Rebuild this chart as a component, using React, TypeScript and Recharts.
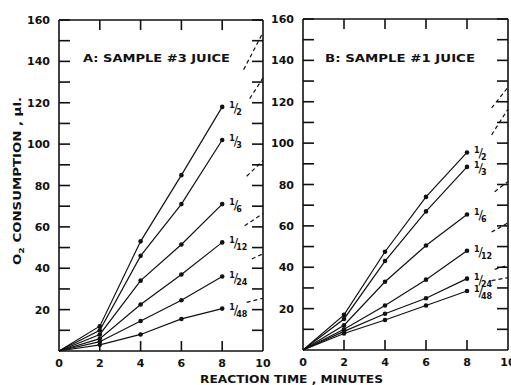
import { Line, LineChart, ReferenceLine, XAxis, YAxis } from "recharts";

const times = [0, 2, 4, 6, 8];
const dilutions = ["1/2", "1/3", "1/6", "1/12", "1/24", "1/48"];
const yTicks = [10, 20, 30, 40, 50, 60, 70, 80, 90, 100, 110, 120, 130, 140, 150, 160];
const xTicks = [0, 2, 4, 6, 8, 10];

// A: sample #3 juice, O2 uptake (µl) at each time
const a2 = [0, 12, 53, 85, 118];
const a3 = [0, 10, 46, 71, 102];
const a6 = [0, 8, 34, 51.5, 71];
const a12 = [0, 6, 22.5, 37, 52.5];
const a24 = [0, 4.5, 14.5, 24.5, 36];
const a48 = [0, 3, 8, 15.5, 20.5];

// dashed stubs at the right edge of panel A
const aTailFrom = [9.05, 9.35, 9.2, 9.1, 9.45, 9.2];
const aTailStart = [136, 122, 84.5, 60.5, 44.5, 23.5];
const aTailEnd = [154, 132, 92, 66.5, 47, 25.5];

// B: sample #1 juice
const b2 = [0, 17, 47.5, 74, 95.5];
const b3 = [0, 15, 43, 67, 88.5];
const b6 = [0, 12, 33, 50.5, 65.5];
const b12 = [0, 10, 21.5, 34, 48];
const b24 = [0, 9, 17.5, 25, 34.5];
const b48 = [0, 8, 14.5, 21.5, 28.5];

const bTailFrom = [9.2, 9.2, 9.35, 9.2, 9.35, 9.2];
const bTailStart = [117, 104, 76.5, 57, 39, 33.5];
const bTailEnd = [127, 116.5, 81.5, 61.5, 41, 35];

const INK = "#111111";
const FONT = "'DejaVu Sans', sans-serif";
const PLOT_H = 331;
const TICK = 11;

function toPoints(values: number[]) {
  return times.map((t, i) => ({ t, v: values[i] }));
}

function FracLabel({ x, y, text }: { x: number; y: number; text: string }) {
  const [num, den] = text.split("/");
  return (
    <text x={x + 7} y={y + 5} fontFamily={FONT} fontWeight="bold" fill={INK}>
      <tspan fontSize={8} dy={-4}>{num}</tspan>
      <tspan fontSize={13} dy={4} dx={-1} fontWeight="normal">/</tspan>
      <tspan fontSize={8} dy={3} dx={-2}>{den}</tspan>
    </text>
  );
}

const dot = (p: any) =>
  p.payload.t > 0 ? <circle key={p.index} cx={p.cx} cy={p.cy} r={2.3} fill={INK} /> : <g key={p.index} />;

// left axis tick: label outside, tick marks inward on both left and right borders
const makeYTick = (plotW: number) => (p: any) => {
  const tx = Number(p.x);
  const ty = Number(p.y);
  const ax = tx + 9;
  const v = p.payload.value;
  return (
    <g key={v}>
      <line x1={ax} x2={ax + TICK} y1={ty} y2={ty} stroke={INK} strokeWidth={1.6} />
      <line x1={ax + plotW - TICK} x2={ax + plotW} y1={ty} y2={ty} stroke={INK} strokeWidth={1.6} />
      {v % 20 === 0 && (
        <text x={tx} y={ty + 4} textAnchor="end" fontFamily={FONT} fontWeight="bold" fontSize={11} fill={INK}>
          {v}
        </text>
      )}
    </g>
  );
};

// bottom axis tick: label below, tick marks inward on bottom and top borders
const xTick = (p: any) => {
  const tx = Number(p.x);
  const ay = Number(p.y) - 8;
  const v = p.payload.value;
  const inner = v > 0 && v < 10;
  return (
    <g key={v}>
      {inner && <line x1={tx} x2={tx} y1={ay} y2={ay - TICK + 1} stroke={INK} strokeWidth={1.6} />}
      {inner && <line x1={tx} x2={tx} y1={ay - PLOT_H} y2={ay - PLOT_H + TICK - 1} stroke={INK} strokeWidth={1.6} />}
      <text x={tx} y={ay + 16} textAnchor="middle" fontFamily={FONT} fontWeight="bold" fontSize={11} fill={INK}>
        {v}
      </text>
    </g>
  );
};

function Panel({
  series,
  tailFrom,
  tailStart,
  tailEnd,
  width,
  top,
  right,
}: {
  series: number[][];
  tailFrom: number[];
  tailStart: number[];
  tailEnd: number[];
  width: number;
  top: number;
  right: number;
}) {
  const plotW = width - 59 - right;
  return (
    <LineChart width={width} height={385} margin={{ top, right, bottom: 385 - top - PLOT_H - 30, left: 0 }}>
      <XAxis
        xAxisId="b"
        dataKey="t"
        type="number"
        domain={[0, 10]}
        ticks={xTicks}
        interval={0}
        tickSize={0}
        tickMargin={8}
        height={30}
        tick={xTick}
        tickLine={false}
        axisLine={{ stroke: INK, strokeWidth: 1.6 }}
      />
      <YAxis
        yAxisId="l"
        type="number"
        domain={[0, 160]}
        ticks={yTicks}
        interval={0}
        tickSize={0}
        tickMargin={9}
        width={59}
        tick={makeYTick(plotW)}
        tickLine={false}
        axisLine={{ stroke: INK, strokeWidth: 1.6 }}
      />
      <ReferenceLine xAxisId="b" yAxisId="l" x={10} stroke={INK} strokeWidth={1.6} ifOverflow="visible" />
      <ReferenceLine xAxisId="b" yAxisId="l" y={160} stroke={INK} strokeWidth={1.6} ifOverflow="visible" />
      {series.map((vals, i) => (
        <Line
          key={dilutions[i]}
          xAxisId="b"
          yAxisId="l"
          data={toPoints(vals)}
          dataKey="v"
          type="linear"
          stroke={INK}
          strokeWidth={1.2}
          dot={dot}
          activeDot={false}
          isAnimationActive={false}
          label={(p: any) =>
            p.index === times.length - 1 ? (
              <FracLabel key={p.index} x={p.x} y={p.y} text={dilutions[i]} />
            ) : (
              <g key={p.index} />
            )
          }
        />
      ))}
      {tailFrom.map((x0, i) => (
        <Line
          key={"tail" + i}
          xAxisId="b"
          yAxisId="l"
          data={[
            { t: x0, v: tailStart[i] },
            { t: 10, v: tailEnd[i] },
          ]}
          dataKey="v"
          type="linear"
          stroke={INK}
          strokeWidth={1.2}
          strokeDasharray="4 3"
          dot={false}
          activeDot={false}
          isAnimationActive={false}
        />
      ))}
    </LineChart>
  );
}

export default function App() {
  return (
    <div style={{ position: "relative", width: 511, height: 385, background: "#fff", overflow: "hidden" }}>
      <style>{"body{margin:0}"}</style>
      <div style={{ position: "absolute", left: 0, top: 0 }}>
        <Panel series={[a2, a3, a6, a12, a24, a48]} tailFrom={aTailFrom} tailStart={aTailStart} tailEnd={aTailEnd} width={275} top={20} right={12} />
      </div>
      <div style={{ position: "absolute", left: 244, top: 0 }}>
        <Panel series={[b2, b3, b6, b12, b24, b48]} tailFrom={bTailFrom} tailStart={bTailStart} tailEnd={bTailEnd} width={267} top={19} right={3} />
      </div>
      <svg width={511} height={385} style={{ position: "absolute", left: 0, top: 0, pointerEvents: "none" }}>
        <g fontFamily={FONT} fontWeight="bold" fill={INK} fontSize={10}>
          <text x={83} y={62} textLength={147} lengthAdjust="spacingAndGlyphs">A: SAMPLE #3 JUICE</text>
          <text x={325} y={62} textLength={150} lengthAdjust="spacingAndGlyphs">B: SAMPLE #1 JUICE</text>
          <text x={200} y={383} textLength={183} lengthAdjust="spacingAndGlyphs">REACTION TIME , MINUTES</text>
          <text transform="translate(21,181) rotate(-90)" textAnchor="middle" textLength={168} lengthAdjust="spacingAndGlyphs">
            O<tspan fontSize={7} dy={3}>2</tspan>
            <tspan dy={-3}> CONSUMPTION , µl.</tspan>
          </text>
        </g>
      </svg>
    </div>
  );
}
